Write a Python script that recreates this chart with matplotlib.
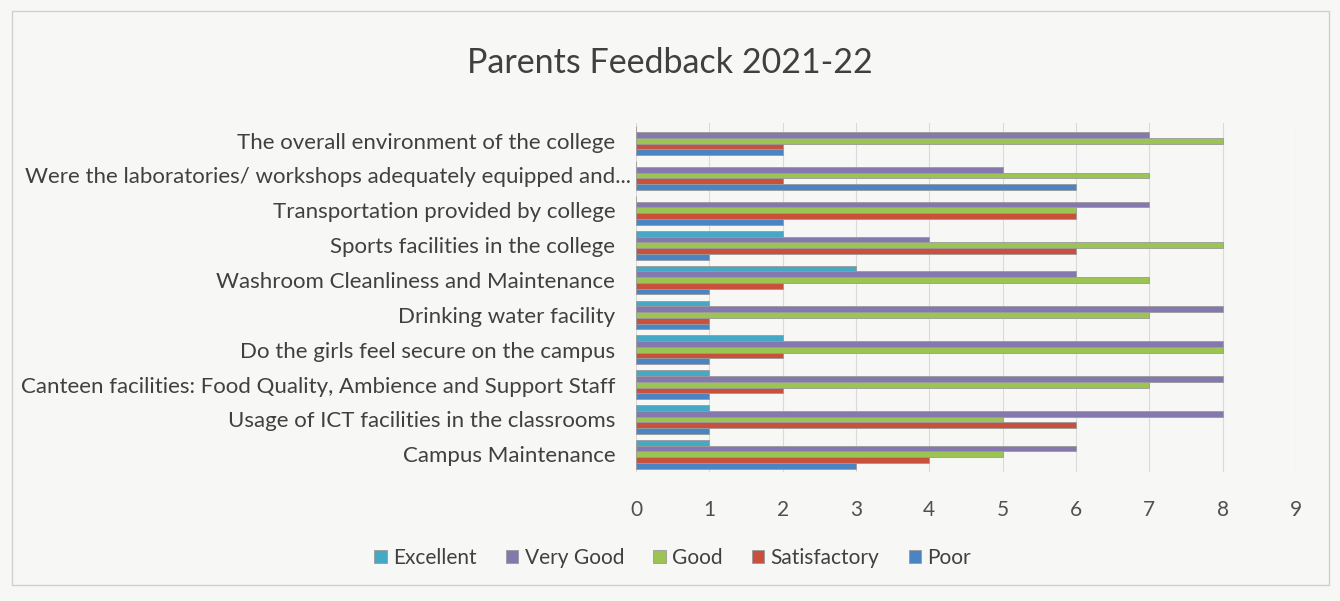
import numpy as np
import matplotlib
matplotlib.use("Agg")
import matplotlib.pyplot as plt
import matplotlib.transforms as mtransforms
from matplotlib.patches import Rectangle

plt.rcParams['font.family'] = ['Lato', 'DejaVu Sans']

# questions, top to bottom
questions = [
    "The overall environment of the college",
    "Were the laboratories/ workshops adequately equipped and...",
    "Transportation provided by college",
    "Sports facilities in the college",
    "Washroom Cleanliness and Maintenance",
    "Drinking water facility",
    "Do the girls feel secure on the campus",
    "Canteen facilities: Food Quality, Ambience and Support Staff",
    "Usage of ICT facilities in the classrooms",
    "Campus Maintenance",
]

series = ["Excellent", "Very Good", "Good", "Satisfactory", "Poor"]
excellent    = [0, 0, 0, 2, 3, 1, 2, 1, 1, 1]
very_good    = [7, 5, 7, 4, 6, 8, 8, 8, 8, 6]
good         = [8, 7, 6, 8, 7, 7, 8, 7, 5, 5]
satisfactory = [2, 2, 6, 6, 2, 1, 2, 2, 6, 4]
poor         = [2, 6, 2, 1, 1, 1, 1, 1, 1, 3]
colors = ["#45A8C4", "#8478AE", "#9CC453", "#C9503C", "#4A84C2"]

fig = plt.figure(figsize=(13.4, 6.01), dpi=100)
fig.patch.set_facecolor("#F7F7F5")
fig.add_artist(Rectangle((0.009, 0.027), 0.983, 0.955, transform=fig.transFigure,
                         fill=False, edgecolor="#D0D0D0", lw=1))

ax = fig.add_axes([0.4746, 0.215, 0.4925, 0.58])
ax.set_facecolor("#F7F7F5")

y = np.arange(len(questions))
h = 0.165
for j, (name, vals) in enumerate(zip(series, [excellent, very_good, good, satisfactory, poor])):
    ax.barh(y + (j - 2) * h, vals, height=h, color=colors[j],
            edgecolor="#9A9A9A", linewidth=0.6, label=name, zorder=3)

ax.set_xlim(0, 9)
ax.set_ylim(len(questions) - 0.5, -0.5)
ax.set_xticks(range(10))
ax.set_yticks(y)
ax.set_yticklabels(questions, fontsize=16, color="#404040")
ax.tick_params(axis='x', labelsize=15, colors="#505050", length=0, pad=20)
ax.tick_params(axis='y', length=0, pad=15)
ax.grid(axis='x', color="#DADADA", lw=0.8, zorder=0)
for s in ax.spines.values():
    s.set_visible(False)

# the truncated label sits closer to the axis
lab = ax.get_yticklabels()[1]
lab.set_transform(lab.get_transform() +
                  mtransforms.ScaledTranslation(16 / 100, 0, fig.dpi_scale_trans))

fig.text(0.5, 0.895, "Parents Feedback 2021-22", ha='center', va='center',
         fontsize=24.5, color="#404040")

fig.legend(loc='center', bbox_to_anchor=(0.502, 0.072), ncol=5, frameon=False,
           fontsize=15, handlelength=0.6, handleheight=0.6, handletextpad=0.3,
           columnspacing=1.4, labelcolor="#404040")

fig.savefig("out.png", dpi=100, facecolor=fig.get_facecolor())
